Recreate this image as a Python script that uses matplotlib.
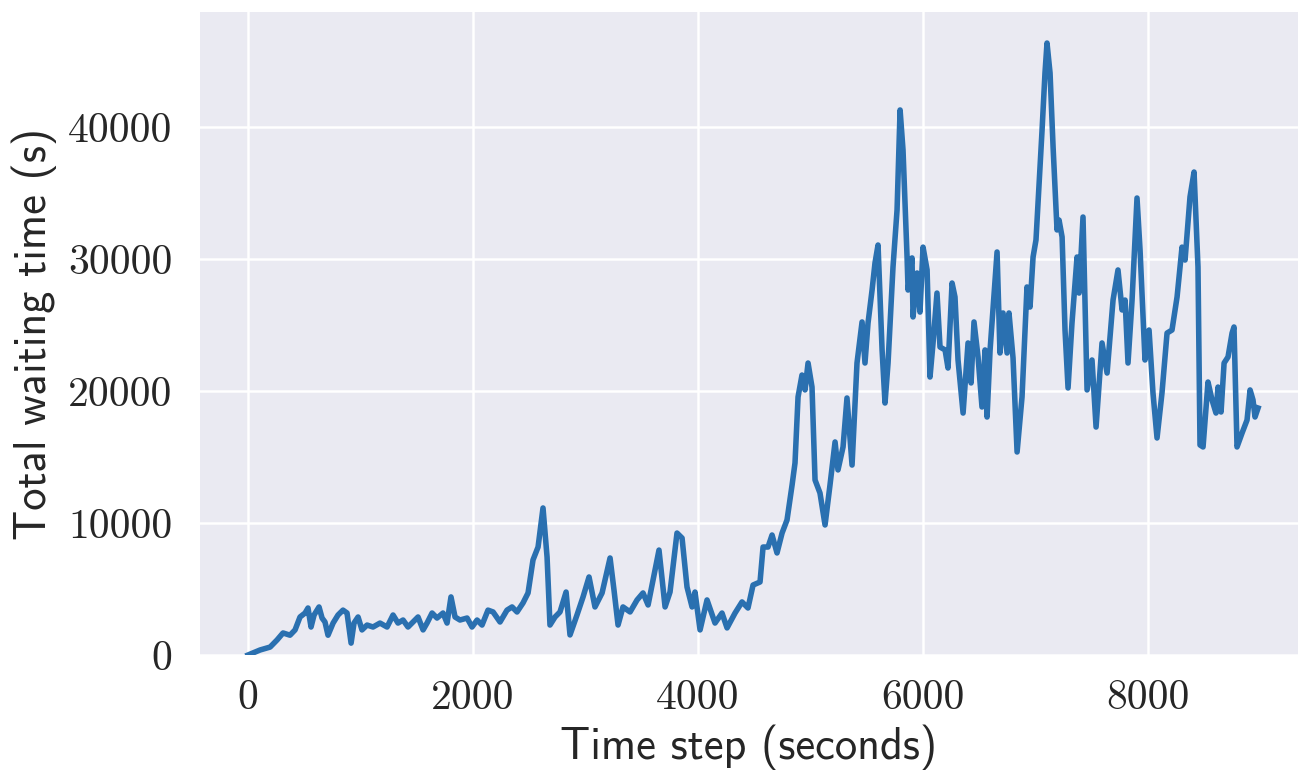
import matplotlib
matplotlib.use("Agg")
import matplotlib.pyplot as plt

# Data
time_steps = [0, 107, 196, 258, 311, 373, 418, 462, 507, 533, 560, 587, 631, 658, 684, 711, 756, 800, 844, 880,
              916, 942, 978, 1013, 1058, 1111, 1173, 1236, 1289, 1333, 1378, 1422, 1467, 1511, 1556, 1591, 1636,
              1680, 1733, 1769, 1804, 1840, 1884, 1947, 1991, 2036, 2080, 2133, 2178, 2240, 2302, 2347, 2391,
              2444, 2489, 2533, 2578, 2622, 2658, 2684, 2729, 2773, 2827, 2862, 2924, 2978, 3031, 3084, 3147,
              3218, 3253, 3289, 3333, 3396, 3458, 3511, 3556, 3591, 3653, 3707, 3751, 3813, 3858, 3902, 3947,
              3973, 4018, 4080, 4151, 4213, 4258, 4329, 4391, 4444, 4489, 4551, 4578, 4622, 4658, 4702, 4747,
              4791, 4836, 4862, 4889, 4924, 4951, 4978, 5013, 5040, 5084, 5129, 5173, 5218, 5244, 5289, 5324,
              5369, 5413, 5458, 5484, 5511, 5547, 5573, 5600, 5636, 5662, 5689, 5733, 5769, 5796, 5822, 5858,
              5867, 5902, 5911, 5947, 5973, 6000, 6036, 6062, 6089, 6124, 6151, 6196, 6222, 6258, 6284, 6311,
              6356, 6400, 6427, 6453, 6489, 6524, 6551, 6569, 6596, 6658, 6684, 6711, 6747, 6764, 6800, 6836,
              6880, 6924, 6951, 6978, 7004, 7058, 7084, 7102, 7129, 7156, 7191, 7209, 7236, 7262, 7289, 7324,
              7369, 7387, 7422, 7458, 7502, 7538, 7591, 7636, 7689, 7733, 7769, 7796, 7822, 7858, 7902, 7929,
              7973, 8009, 8044, 8080, 8124, 8169, 8213, 8258, 8302, 8329, 8373, 8409, 8444, 8462, 8489, 8533,
              8569, 8604, 8622, 8649, 8676, 8711, 8747, 8764, 8791, 8836, 8880, 8907, 8933, 8951, 8978]
waiting_time = [0, 380, 600, 1140, 1670, 1500, 1900, 2880, 3180, 3560, 2120, 3030, 3640, 2800, 2500, 1500, 2420,
                3030, 3400, 3180, 900, 2420, 2880, 1900, 2270, 2120, 2420, 2120, 3030, 2420, 2650, 2120, 2500,
                2880, 1900, 2420, 3180, 2800, 3180, 2420, 4400, 2880, 2650, 2800, 2120, 2650, 2270, 3400, 3260,
                2500, 3400, 3640, 3260, 3940, 4700, 7200, 8180, 11140, 7420, 2270, 2880, 3260, 4770, 1520, 3030,
                4400, 5910, 3640, 4700, 7350, 4920, 2270, 3640, 3260, 4170, 4700, 3790, 5300, 7950, 3640, 4770,
                9240, 8860, 5150, 3640, 4770, 1900, 4170, 2420, 3180, 2050, 3180, 4020, 3560, 5300, 5530, 8180,
                8180, 9090, 7730, 9240, 10230, 12880, 14550, 19550, 21210, 20080, 22120, 20300, 13260, 12270,
                9850, 12880, 16140, 14020, 15760, 19470, 14390, 22120, 25230, 22120, 25150, 27650, 29700, 31060,
                23100, 19090, 22120, 29390, 33710, 41290, 38260, 30150, 27650, 30080, 25610, 28940, 25980, 30900,
                29170, 21060, 23640, 27420, 23330, 23110, 21740, 28180, 27120, 22350, 18330, 23640, 20610, 25230,
                22580, 18790, 23110, 18030, 23110, 30530, 22880, 25910, 22880, 25910, 22500, 15380, 19550, 27880,
                26360, 30150, 31440, 39770, 44090, 46360, 44090, 38480, 32200, 32950, 31670, 24620, 20230, 25150,
                30150, 27420, 33180, 20080, 22350, 17270, 23640, 21360, 26890, 29170, 26140, 26890, 22120, 26890,
                34620, 30680, 22350, 24620, 19850, 16440, 19850, 24390, 24620, 27120, 30900, 29920, 34700, 36590,
                29390, 15910, 15760, 20680, 19320, 18330, 20300, 18410, 22120, 22580, 24390, 24850, 15760, 16820,
                17800, 20080, 19320, 18030, 18710]
x_ticks = [0, 2000, 4000, 6000, 8000]
y_ticks = [0, 10000, 20000, 30000, 40000]
x_label = "Time step (seconds)"
y_label = "Total waiting time (s)"

plt.rcParams['axes.formatter.use_mathtext'] = True

W, H = 1298, 774
fig = plt.figure(figsize=(W / 100, H / 100), dpi=100)
ax = fig.add_axes([200 / W, (H - 655) / H, (W - 200) / W, (655 - 12) / H])
ax.set_facecolor('#EAEAF2')
for s in ax.spines.values():
    s.set_visible(False)
ax.grid(True, color='white', linewidth=1.8)
ax.set_axisbelow(True)

ax.plot(time_steps, waiting_time, color='#2a70b0', linewidth=4.0, solid_joinstyle='round')

ax.set_xlim(-427, 9333)
ax.set_ylim(0, 48712)
ax.set_xticks(x_ticks)
ax.set_yticks(y_ticks)
ax.set_xticklabels([str(v) for v in x_ticks], family='cmr10', fontsize=30, color='#262626')
ax.set_yticklabels([str(v) for v in y_ticks], family='cmr10', fontsize=30, color='#262626')
ax.tick_params(axis='both', length=0)
ax.tick_params(axis='x', pad=18)
ax.tick_params(axis='y', pad=20)

ax.set_xlabel(x_label, family='cmss10', fontsize=32, color='#262626', labelpad=5)
ax.set_ylabel(y_label, family='cmss10', fontsize=32, color='#262626', labelpad=8)

fig.savefig('out.png', dpi=100)
